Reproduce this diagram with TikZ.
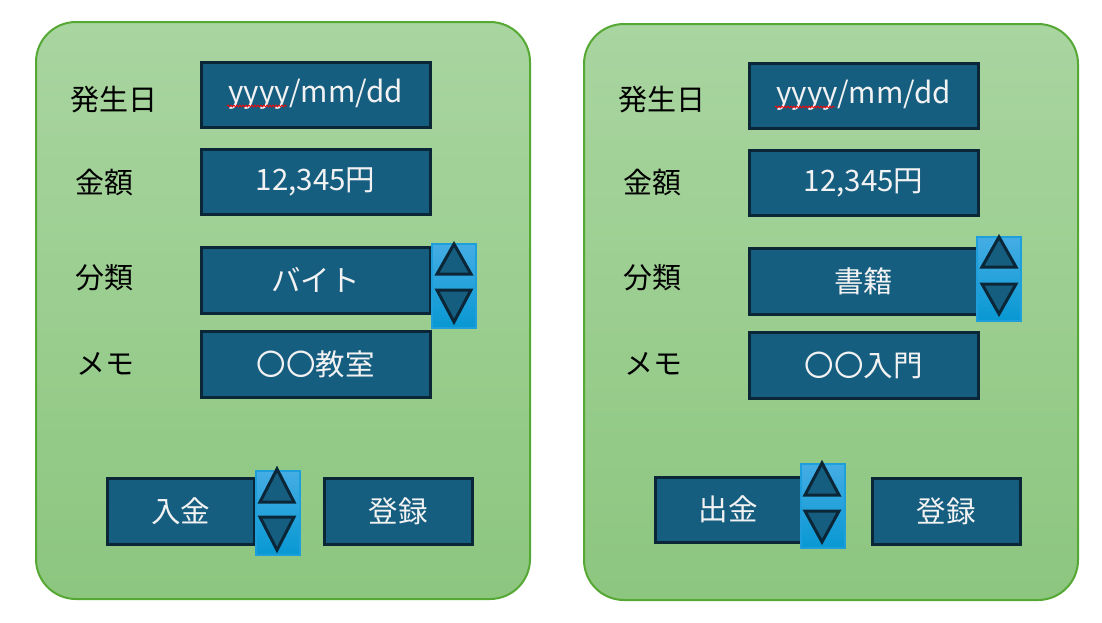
\documentclass[tikz,border=0pt]{standalone}
\usepackage{fontspec}
\setmainfont{Noto Sans CJK JP}
\usetikzlibrary{decorations.pathmorphing}
\definecolor{pantop}{HTML}{A9D5A0}
\definecolor{panbot}{HTML}{8CC67F}
\definecolor{panedge}{HTML}{56A834}
\definecolor{boxfill}{HTML}{165E80}
\definecolor{boxedge}{HTML}{0B2636}
\definecolor{spintop}{HTML}{45ADE4}
\definecolor{spinbot}{HTML}{0898D2}
\definecolor{spinedge}{HTML}{1E9FDB}
\definecolor{txtw}{HTML}{F2F2F2}
\tikzset{
  panel/.style={draw=panedge, line width=2pt, rounded corners=40pt, top color=pantop, bottom color=panbot, inner sep=0pt},
  fieldbox/.style={draw=boxedge, line width=3pt, fill=boxfill, inner sep=0pt, text=txtw, font=\fontsize{29.5}{32}\selectfont},
  lbl/.style={inner sep=0pt, text=black, font=\fontsize{29}{32}\selectfont},
  spinbox/.style={draw=spinedge, line width=1.5pt, top color=spintop, bottom color=spinbot, inner sep=0pt},
  tri/.style={draw=boxedge, line width=3pt, fill=boxfill, line join=miter},
  squig/.style={draw=red, line width=0.8pt, decorate, decoration={snake, amplitude=0.9pt, segment length=3pt}}
}
\begin{document}
\begin{tikzpicture}[x=1pt,y=-1pt]
\useasboundingbox (0,0) rectangle (1102,622);
% ---------- left panel ----------
\node[panel, minimum width=494pt, minimum height=577pt] (pl) at (283,310.5) {};
\node[lbl] (l1) at (113.5,100) {発生日};
\node[lbl] (l2) at (104,182) {金額};
\node[lbl] (l3) at (104,278) {分類};
\node[lbl] (l4) at (105,364) {メモ};
\node[fieldbox, minimum width=229pt, minimum height=65pt] (a1) at (315.5,94.5) {yyyy/mm/dd};
\coordinate (a1s) at (227,106);
\coordinate (a1e) at (287,106);
\draw[squig] (a1s) -- (a1e);
\node[fieldbox, minimum width=229pt, minimum height=65pt] (a2) at (315.5,181.5) {12,345円};
\node[fieldbox, minimum width=229pt, minimum height=66pt] (a3) at (315.5,280) {バイト};
\node[fieldbox, minimum width=229pt, minimum height=66pt] (a4) at (315.5,364) {〇〇教室};
\node[spinbox, minimum width=44pt, minimum height=84pt] (as) at (454,286) {};
\draw[tri] (454,244) -- (471,274) -- (437,274) -- cycle;
\draw[tri] (437,290) -- (471,290) -- (454,322) -- cycle;
\node[fieldbox, minimum width=147pt, minimum height=66pt] (ab1) at (180.5,511) {入金};
\node[spinbox, minimum width=44pt, minimum height=84pt] (abs) at (278,513) {};
\draw[tri] (277,469) -- (294,502) -- (260,502) -- cycle;
\draw[tri] (260,517) -- (294,517) -- (277,550) -- cycle;
\node[fieldbox, minimum width=148pt, minimum height=66pt] (ab2) at (398,511) {登録};
% ---------- right panel ----------
\node[panel, minimum width=494pt, minimum height=576pt] (pr) at (831,312) {};
\node[lbl] (r1) at (661.5,100) {発生日};
\node[lbl] (r2) at (652,182) {金額};
\node[lbl] (r3) at (652,278) {分類};
\node[lbl] (r4) at (653,364) {メモ};
\node[fieldbox, minimum width=229pt, minimum height=65pt] (b1) at (863.5,95.5) {yyyy/mm/dd};
\coordinate (b1s) at (775,107);
\coordinate (b1e) at (835,107);
\draw[squig] (b1s) -- (b1e);
\node[fieldbox, minimum width=229pt, minimum height=65pt] (b2) at (863.5,182.5) {12,345円};
\node[fieldbox, minimum width=229pt, minimum height=66pt] (b3) at (863.5,281) {書籍};
\node[fieldbox, minimum width=229pt, minimum height=66pt] (b4) at (863.5,365) {〇〇入門};
\node[spinbox, minimum width=44pt, minimum height=84pt] (bs) at (999,279) {};
\draw[tri] (999,237) -- (1016,267) -- (982,267) -- cycle;
\draw[tri] (982,284) -- (1016,284) -- (999,314) -- cycle;
\node[fieldbox, minimum width=146pt, minimum height=65pt] (bb1) at (728,509.5) {出金};
\node[spinbox, minimum width=44pt, minimum height=84pt] (bbs) at (823,506) {};
\draw[tri] (822,463) -- (839,495) -- (805,495) -- cycle;
\draw[tri] (805,511) -- (839,511) -- (822,542) -- cycle;
\node[fieldbox, minimum width=148pt, minimum height=66pt] (bb2) at (946,511) {登録};
\end{tikzpicture}
\end{document}
